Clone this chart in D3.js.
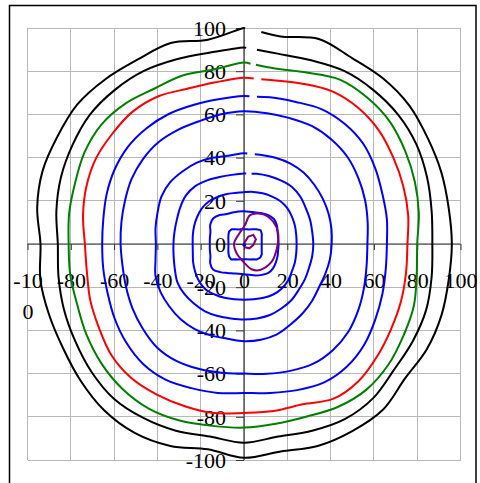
<!DOCTYPE html>
<html><head><meta charset="utf-8">
<script src="https://cdn.jsdelivr.net/npm/d3@7"></script>
<style>
html,body{margin:0;padding:0;background:#fff;}
svg{display:block;}
</style></head>
<body>
<svg id="chart" width="480" height="483"></svg>
<script>
// ---- data ----
const angles = [0,10,20,30,40,50,60,70,80,90,100,110,120,130,140,150,160,170,180,190,200,210,220,230,240,250,260,270,280,290,300,310,320,330,340,350];
const tickValues = [-100,-80,-60,-40,-20,0,20,40,60,80,100];

// contour radii (data units) at each angle (counter-clockwise from +x)
const outerBlack = [96,96,97,98,99.7,100,99.5,101,97.5,100,96,99,98.5,99.6,100.5,99.5,99,97,94,95.5,95.8,96.5,98.5,100.5,101,99.5,96.5,99,97.5,99.5,100,100,97,97.5,97,96];
const innerBlack = [87,88,90,92,93,93,92.5,90.5,89.5,91,90,91,92.5,93,93,91.5,90,88,86,87,88.5,90,92,93.5,93,92,90.5,92,90.5,92,93.5,93,90.5,90,89.5,88];
const greenLevel = [80,82,84,86,88,88.5,88,84.5,82.5,84,82,83,83,85,86,85,83,82,81,81.5,82,84,86,87.5,88,87,85.5,85,84.5,85,87,88,87,85,83.5,81];
const redLevel = [75.5,77,78.3,79.7,81.5,82.2,81.6,79,77,77,76,76.5,79,80,79.4,79,77.5,75.5,73.5,73.7,75.6,77.4,80,81,80.5,79.9,79.5,78.2,78.5,79,82.7,82.6,80.5,78.5,77.2,76];
const blue7 = [66,67,68,70,72,72.5,72,70,69,68.5,68,68.5,69.5,70,70,69,67.5,66,65.5,66,67,69,71,72.5,72.5,71,70,69,70,72,74,74,72.5,70,68,66.5];
const blue6 = [57,58,59.5,61,62.5,63,63,62,61.5,61.5,61,60.5,61,61.5,61,60,58.5,57.5,57,57,58,59.5,61,62.5,62.5,61.5,60.5,60,61,62.5,64,64,63,61,59,57.5];
const blue5 = [40.5,41,41.5,42,42.5,43,43,42.5,42,42,41.5,42.5,43.5,44,44.5,44,42.5,41.5,40.7,41.5,43.5,44.5,45,45.5,45.5,45,44.5,45,45,44.5,43,42,41,40,40,40.3];
const blue4 = [32,32,32.5,33,34,34.5,34,33.5,33,32.6,32.5,33,34,35,35,34,33,32.6,32.6,33,34,35.5,36,36,36,35.5,35,35,35,35,34.5,34,33,32.5,32,32];
const blue3 = [24.3,24.5,25,25.5,26,26,25.5,25,24.5,24,24,24.5,25,25.5,25.5,25,24.5,24,23.7,24,25,26,27,27.5,27,26.5,26,25.8,26,26.5,27,27,26.5,25.5,25,24.5];
const blue2 = [16,16,16.5,17.5,18,17.5,16.5,15.5,15.2,15.2,15.3,15.5,16,17.5,18.5,18,16.5,16,15.8,16,16.5,18,18.5,17,15.5,14.5,14,14,14.5,15.5,16.5,17.5,17.5,17,16.5,16];
const blue1 = [8.2,8.3,8.7,9.5,10,8.9,7.9,7.2,6.9,6.8,6.9,7.2,7.9,8.9,9,8.3,7.7,7.3,7.2,7.3,7.7,8.3,9,9.3,8.2,7.6,7.2,7.1,7.2,7.6,8.2,9.3,9.8,9.5,8.7,8.3];

const purpleOuterX = [2.8,8.9,13.5,15.8,15,12.8,7.4,3.5,-0.3,-3.4,-4.6,-2.6,0.5];
const purpleOuterY = [13.4,13.8,10.3,4.9,-2.8,-8.2,-12,-11.7,-8.2,-4.3,0.3,4.2,8.8];
const purpleInnerX = [0.5,2,4.3,5.5,4.3,2.5,0.5,-0.3];
const purpleInnerY = [1.1,3.4,4.2,2.2,-0.5,-2,-1.5,-0.5];
const centerMark = [0.3,-0.3];

// ---- drawing ----
const svg = d3.select("#chart");
const x = d3.scaleLinear().domain([-100,100]).range([27.5,460.5]);
const y = d3.scaleLinear().domain([-100,100]).range([460,28]);
const FONT = "'Liberation Serif','Times New Roman',serif";

// outer frame
svg.append("rect").attr("x",9.5).attr("y",5.5).attr("width",466.5).attr("height",500)
  .attr("fill","none").attr("stroke","#000").attr("stroke-width",1.5);

// grid
const grid = svg.append("g").attr("stroke","#b8b8b8").attr("stroke-width",1).attr("shape-rendering","crispEdges");
tickValues.forEach(v=>{
  grid.append("line").attr("x1",x(v)).attr("x2",x(v)).attr("y1",y(-100)).attr("y2",y(100));
  grid.append("line").attr("y1",y(v)).attr("y2",y(v)).attr("x1",x(-100)).attr("x2",x(100));
});

// axes lines through origin
svg.append("line").attr("x1",x(-100)).attr("x2",x(100)).attr("y1",y(0)).attr("y2",y(0))
  .attr("stroke","#333").attr("stroke-width",1.2);
svg.append("line").attr("x1",x(0)).attr("x2",x(0)).attr("y1",y(-100)).attr("y2",y(100))
  .attr("stroke","#333").attr("stroke-width",1.2);

// y axis
const yAxis = d3.axisLeft(y).tickValues(tickValues).tickFormat(d=>String(d)).tickSize(8).tickPadding(10);
const gy = svg.append("g").attr("transform",`translate(${x(0)},0)`).call(yAxis);
gy.select(".domain").remove();
gy.selectAll(".tick line").attr("stroke","#333");
gy.selectAll("text").attr("font-family",FONT).attr("font-size",22).attr("fill","#000").attr("dy","0.33em");

// x axis
const xAxis = d3.axisBottom(x).tickValues(tickValues).tickFormat(d=>String(d)).tickSize(6).tickPadding(10);
const gx = svg.append("g").attr("transform",`translate(0,${y(0)})`).call(xAxis);
gx.select(".domain").remove();
gx.selectAll(".tick line").attr("stroke","#333");
gx.selectAll("text").attr("font-family",FONT).attr("font-size",22).attr("fill","#000")
  .attr("y",44).attr("dy",null);
gx.selectAll(".tick").filter(d=>d===-100).select("text").each(function(){
  const t = d3.select(this); t.text("");
  t.append("tspan").attr("x",0).attr("y",44).text("-10");
  t.append("tspan").attr("x",0).attr("y",75).text("0");
});

// contours
const contours = [
  {r: outerBlack, color:"#000000", gap:[0.5,8]},
  {r: innerBlack, color:"#000000", gap:[1,6]},
  {r: greenLevel, color:"#008000", gap:[3,5.5]},
  {r: redLevel, color:"#ff0000", gap:[4.5,8]},
  {r: blue7, color:"#0000ff", gap:[2.5,6]},
  {r: blue6, color:"#0000ff", gap:null},
  {r: blue5, color:"#0000ff", gap:[1.5,5]},
  {r: blue4, color:"#0000ff", gap:[1,3.5]},
  {r: blue3, color:"#0000ff", gap:null},
  {r: blue2, color:"#0000ff", gap:null},
  {r: blue1, color:"#0000ff", gap:null, linear:true}
];
const toRad = Math.PI/180;
contours.forEach(c=>{
  const pts = angles.map((a,i)=>[c.r[i]*Math.cos(a*toRad), c.r[i]*Math.sin(a*toRad)]);
  let line;
  if (c.gap){
    const iA = angles.indexOf(80), iB = angles.indexOf(90);
    const A = pts[iA], B = pts[iB];
    const interp = g => { const t=(A[0]-g)/(A[0]-B[0]); return [A[0]+t*(B[0]-A[0]), A[1]+t*(B[1]-A[1])]; };
    const P1 = interp(c.gap[1]), P2 = interp(c.gap[0]);
    const seq = [P2].concat(pts.slice(iB), pts.slice(0,iA+1), [P1]);
    line = d3.line().x(d=>x(d[0])).y(d=>y(d[1])).curve(d3.curveCatmullRom.alpha(0.5));
    svg.append("path").attr("d",line(seq));
  } else {
    line = d3.line().x(d=>x(d[0])).y(d=>y(d[1]))
      .curve(c.linear ? d3.curveLinearClosed : d3.curveCatmullRomClosed.alpha(0.5));
    svg.append("path").attr("d",line(pts));
  }
  svg.select("path:last-of-type");
  svg.selectAll("path").filter(function(){return !this.__styled;}).each(function(){
    this.__styled = true;
    d3.select(this).attr("fill","none").attr("stroke",c.color).attr("stroke-width",2).attr("stroke-linejoin","round");
  });
});

// purple contours
const purpleOuter = purpleOuterX.map((v,i)=>[v,purpleOuterY[i]]);
const purpleInner = purpleInnerX.map((v,i)=>[v,purpleInnerY[i]]);
svg.append("path").attr("d", d3.line().x(d=>x(d[0])).y(d=>y(d[1])).curve(d3.curveCatmullRomClosed.alpha(0.5))(purpleOuter))
  .attr("fill","none").attr("stroke","#800080").attr("stroke-width",2);
svg.append("path").attr("d", d3.line().x(d=>x(d[0])).y(d=>y(d[1])).curve(d3.curveLinearClosed)(purpleInner))
  .attr("fill","none").attr("stroke","#800080").attr("stroke-width",2);
svg.append("circle").attr("cx",x(centerMark[0])).attr("cy",y(centerMark[1])).attr("r",1.6).attr("fill","#0000ff");
</script>
</body></html>
